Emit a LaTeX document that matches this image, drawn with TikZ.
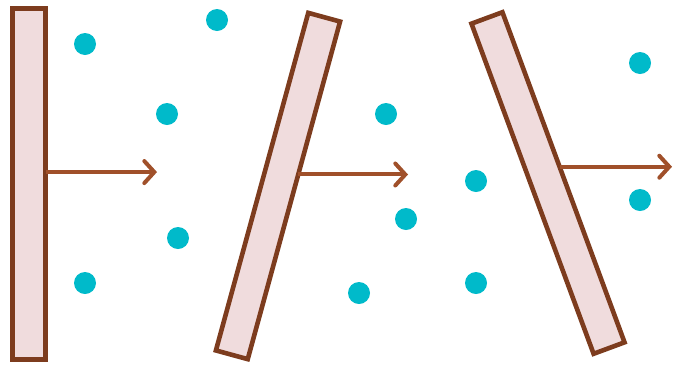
\documentclass[tikz,border=0pt]{standalone}
\usepackage{xcolor}
\definecolor{plateFill}{RGB}{240,220,221}
\definecolor{plateEdge}{RGB}{125,60,30}
\definecolor{pushArrow}{RGB}{160,80,42}
\definecolor{gasDot}{RGB}{0,186,202}
\usepackage{tikz}
\usetikzlibrary{arrows.meta,calc}
\tikzstyle{plate}=[draw=plateEdge, fill=plateFill, line width=4.6pt, minimum width=33pt, inner sep=0pt, outer sep=0pt]
\tikzstyle{dot}=[circle, fill=gasDot, minimum size=22pt, inner sep=0pt]
\tikzstyle{push}=[draw=pushArrow, line width=4pt, -{Straight Barb[length=10pt,width=22pt,line cap=round]}]

\begin{document}
\begin{tikzpicture}[x=1pt,y=-1pt]
        \useasboundingbox (0,0) rectangle (674,365);
        \foreach \x/\y [count=\i] in {85/44,167/114,178/238,85/283,217/20,386/114,406/219,359/293,476/181,476/283,640/63,640/200}{
          \node[dot] (dot\i) at (\x,\y) {};
        }
        \node[plate, minimum height=351pt] (plate1) at (29,184) {};
        \node[plate, minimum height=350pt, rotate=-15.3] (plate2) at (278,186) {};
        \node[plate, minimum height=352pt, rotate=20.3] (plate3) at (548,183) {};
        \coordinate (tip1) at (157,172);
        \coordinate (tip2) at (408,174);
        \coordinate (tip3) at (672,165);
        \foreach \i/\t in {1/0.466,2/0.453,3/0.468}{
          \coordinate (start\i) at ($(plate\i.north east)!\t!(plate\i.south east)$);
          \draw[push] (start\i) -- (start\i -| tip\i);
        }
      \end{tikzpicture}
\end{document}
